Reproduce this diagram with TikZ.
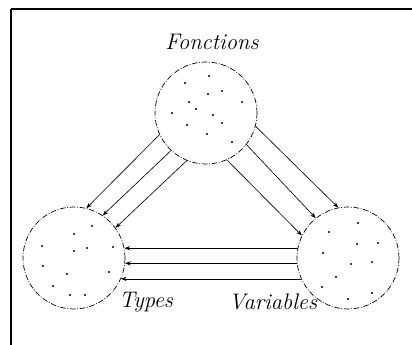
\documentclass[tikz,border=0pt]{standalone}
\usetikzlibrary{arrows.meta}
\begin{document}
\begin{tikzpicture}[x=0.25mm, y=-0.25mm,
  ensemble/.style={circle, draw, dash pattern=on 4pt off 1.2pt on 0.6pt off 1.2pt,
                   line width=0.5pt, minimum size=25.5mm, inner sep=0pt},
  fleche/.style={-{Stealth[length=4pt, width=3pt]}, line width=0.45pt},
  titre/.style={font=\itshape\fontsize{16}{18}\selectfont},
]
  \useasboundingbox (0,0) rectangle (412,345);
  % cadre
  \draw[line width=1.6pt] (11,9) -- (412,9);
  \draw[line width=1.1pt] (11,9) -- (11,345);

  \node[ensemble] (fonc)  at (206,113) {};
  \node[ensemble] (types) at (74,258)  {};
  \node[ensemble] (var)   at (348,258) {};

  \node[titre] (tfonc)  at (212,42)  {Fonctions};
  \node[titre] (ttypes) at (146,302) {Types};
  \node[titre] (tvar)   at (273,302) {Variables};

  % elements des ensembles
  \foreach \x/\y in {209/76, 185/83, 222/91, 208/94, 189/102, 242/102, 196/109,
                     213/115, 172/113, 187/125, 222/123, 207/134, 232/142,
                     92/226, 74/234, 42/246, 74/251, 87/248, 113/247, 43/266,
                     67/274, 109/272, 53/286, 70/295, 85/295,
                     358/223, 329/232, 378/243, 357/244, 323/253, 372/262,
                     351/264, 336/277, 322/287, 372/293, 348/299}
    \fill (\x,\y) circle (0.85pt);

  % fleches
  \foreach \a/\b in {205/76, 227/56, 248/36}
    \draw[fleche] (fonc.\a) -- (types.\b);
  \foreach \a/\b in {345/101, 322/129, 294/154}
    \draw[fleche] (fonc.\a) -- (var.\b);
  \foreach \a/\b in {169/11, 186/-6, 204/-24}
    \draw[fleche] (var.\a) -- (types.\b);
\end{tikzpicture}
\end{document}
